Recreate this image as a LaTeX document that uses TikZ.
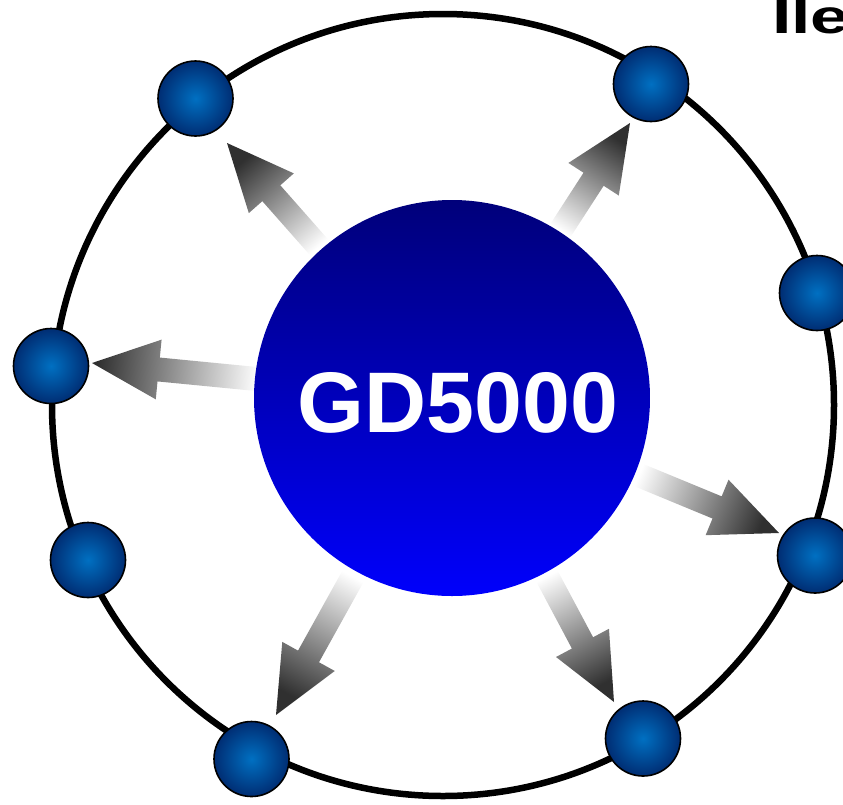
\documentclass[tikz,border=0pt]{standalone}
\usepackage{fontspec}
\setmainfont{Liberation Sans}
\usetikzlibrary{calc}
\definecolor{navytop}{RGB}{0,0,122}
\definecolor{bluebot}{RGB}{0,0,252}
\definecolor{ballin}{RGB}{0,112,194}
\definecolor{ballout}{RGB}{0,45,115}
\definecolor{tipgray}{RGB}{48,48,48}
\tikzset{
  ring/.style={draw=black, line width=6.5pt},
  core/.style={circle, minimum size=396pt, inner sep=0pt, top color=navytop, bottom color=bluebot},
  sat/.style={circle, minimum size=75pt, inner sep=0pt, draw=black, line width=1.6pt, inner color=ballin, outer color=ballout},
  arrowshade/.style={top color=tipgray, bottom color=white},
  label/.style={font=\bfseries\fontsize{86}{86}\selectfont, text=white, inner sep=0pt},
  title/.style={font=\bfseries\fontsize{48}{48}\selectfont, text=black, inner sep=0pt}
}
\newcommand{\gradarrow}[3]{%
  \coordinate (gb) at ($(#1)!190pt!(#2)$);
  \coordinate (gh) at ($(#2)!67pt!(#1)$);
  \shade[arrowshade, shading angle=#3]
    ($(gb)!12pt!90:(#2)$) -- ($(gh)!12pt!90:(#2)$) -- ($(gh)!30pt!90:(#2)$) -- (#2)
    -- ($(gh)!30pt!-90:(#2)$) -- ($(gh)!12pt!-90:(#2)$) -- ($(gb)!12pt!-90:(#2)$) -- cycle;}
\begin{document}
\begin{tikzpicture}[x=1pt,y=1pt]
\useasboundingbox (0,0) rectangle (843,-804);
% outer ring
\coordinate (rc) at (443,-405);
\draw[ring] (rc) circle (391);
% centre and tips
\coordinate (cc) at (452,-398);
\coordinate (tA) at (227,-143);
\coordinate (tB) at (630,-123);
\coordinate (tC) at (92,-363);
\coordinate (tD) at (779,-533);
\coordinate (tE) at (276,-715);
\coordinate (tF) at (614,-702);
% arrows
\gradarrow{cc}{tA}{41.4}
\gradarrow{cc}{tB}{-32.9}
\gradarrow{cc}{tC}{84.4}
\gradarrow{cc}{tD}{-112.4}
\gradarrow{cc}{tE}{151}
\gradarrow{cc}{tF}{-151.9}
% core
\node[core] (core) at (cc) {};
\node[label, anchor=base] (gd) at (458,-432) {GD5000};
% satellites
\node[sat] (b1) at (195.5,-98.5) {};
\node[sat] (b2) at (651,-84) {};
\node[sat] (b3) at (817,-293) {};
\node[sat] (b4) at (51,-366) {};
\node[sat] (b5) at (88,-560) {};
\node[sat] (b6) at (815,-555.5) {};
\node[sat] (b7) at (251.5,-759) {};
\node[sat] (b8) at (643,-738.5) {};
% title fragment
\node[title, anchor=base west] (ttl) at (772,-33) {\scalebox{1.45}[1]{Ile}};
\end{tikzpicture}
\end{document}
